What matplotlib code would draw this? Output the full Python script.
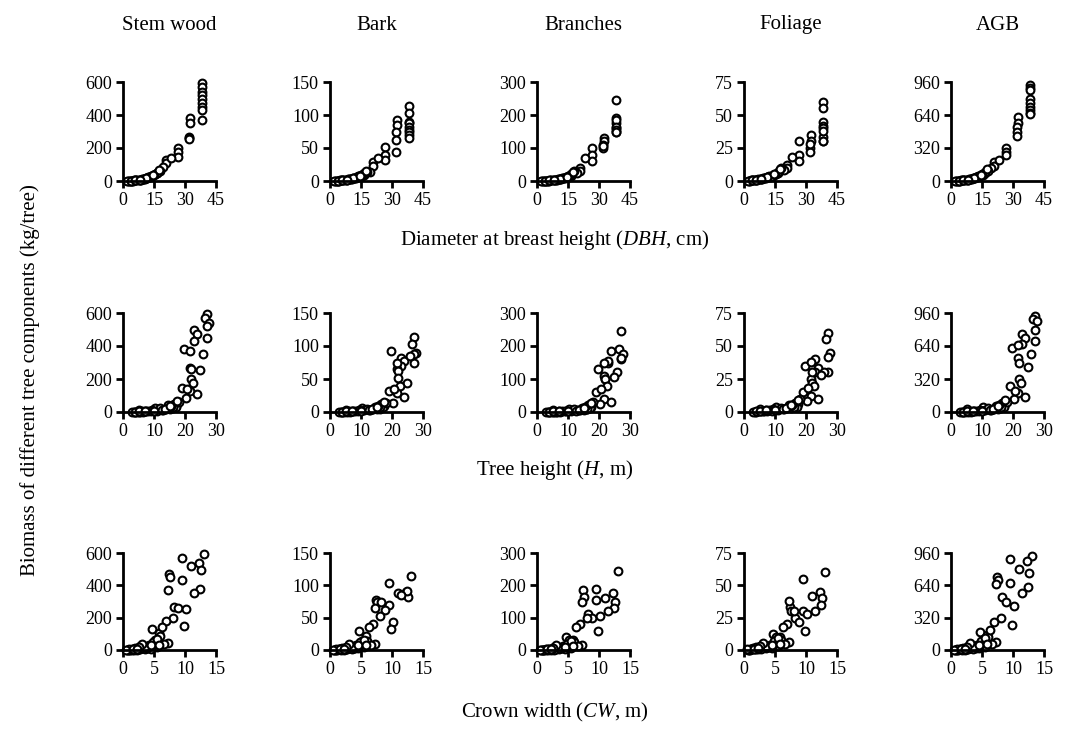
import matplotlib
matplotlib.use("Agg")
import matplotlib.pyplot as plt

plt.rcParams['font.family'] = ['Liberation Serif', 'DejaVu Serif']
plt.rcParams['mathtext.fontset'] = 'custom'
plt.rcParams['mathtext.rm'] = 'Liberation Serif'
plt.rcParams['mathtext.it'] = 'Liberation Serif:italic'

# ---- per-tree data ----
dbh = [38.1, 38.1, 38.1, 38.1, 38.1, 38.1, 38.1, 38.1, 32.4, 38.1, 32.4, 32.0, 32.0, 32.0,
       26.6, 26.6, 26.6, 21.0, 21.0, 19.5, 16.3, 15.5, 13.0, 12.0, 11.0, 10.0, 9.0, 8.5,
       8.0, 7.0, 6.5, 6.0, 5.0, 4.5, 4.0, 3.5, 3.0, 2.5, 2.0, 12.5, 14.0, 10.5, 18.0,
       23.0, 7.5, 11.5, 16.5,
       5.5, 9.5, 13.5, 15.0, 17.5, 11.0, 4.0, 6.0, 8.0, 14.5]
height = [27.0, 26.4, 27.8, 27.0, 22.9, 23.9, 27.0, 22.9, 19.6, 21.6, 25.9, 21.6, 22.0, 24.8,
          22.0, 22.7, 18.9, 21.6, 24.0, 20.3, 17.3, 14.6, 10.3, 16.0, 15.0, 13.0, 9.5, 11.0,
          8.0, 7.0, 9.0, 6.0, 5.0, 6.5, 4.5, 5.5, 4.0, 3.5, 3.0, 12.0, 17.0, 5.0, 18.0,
          20.5, 10.0, 14.0, 16.5,
          7.5, 12.5, 16.0, 15.5, 17.5, 13.5, 3.8, 5.0, 7.0, 15.0]
crown = [13.1, 9.5, 12.2, 10.9, 12.6, 7.4, 7.6, 9.5, 12.4, 7.2, 11.5, 8.3, 8.8, 10.2,
         8.0, 6.9, 9.8, 4.7, 5.8, 6.0, 7.2, 6.6, 5.0, 3.3, 5.5, 4.0, 3.0, 4.5,
         2.5, 3.5, 2.0, 2.8, 1.5, 2.2, 1.2, 1.8, 1.0, 0.8, 0.6, 2.8, 4.2, 3.8, 5.2,
         6.3, 1.5, 3.5, 4.8,
         1.0, 2.0, 4.5, 3.0, 5.5, 2.5, 0.5, 1.6, 2.2, 5.8]
stem = [592, 568, 541, 521, 495, 471, 450, 430, 380, 370, 350, 265, 258, 252,
        198, 178, 147, 127, 107, 87, 46, 40, 26, 22, 18, 14, 11, 9,
        8, 6, 5, 4, 3, 2.2, 1.6, 1.2, 0.9, 0.6, 0.4, 24, 30, 15, 60,
        142, 7, 20, 50,
        3.5, 12, 28, 38, 65, 17, 1.5, 4.5, 7.5, 34]
bark = [114, 103, 90, 88, 82, 78, 75, 70, 92, 65, 85, 75, 62, 44,
        52, 40, 32, 29, 22, 14, 9, 8, 6, 5, 4.5, 3.5, 3, 2.5,
        2, 1.6, 1.3, 1.1, 0.9, 0.7, 0.5, 0.4, 0.3, 0.2, 0.15, 5, 7, 3.5, 14,
        35, 1.8, 4.5, 12,
        1.0, 3, 7, 9, 15, 4, 0.4, 1.2, 2, 8]
branches = [245, 190, 175, 160, 150, 185, 165, 155, 130, 150, 120, 110, 100, 105,
            100, 80, 60, 40, 30, 25, 15, 12, 10, 8, 6, 5, 4, 3.5,
            3, 2.5, 2, 1.5, 1.2, 0.9, 0.7, 0.5, 0.4, 0.3, 0.2, 9, 11, 5, 30,
            70, 2.8, 7, 20,
            1.3, 4.5, 10, 14, 28, 6, 0.6, 1.7, 2.8, 13]
foliage = [60, 55, 45, 42, 40, 33, 30, 30, 35, 38, 30, 25, 22, 28,
           30, 20, 15, 12, 10, 8, 6, 5, 4, 3.5, 3, 2.5, 2, 1.8,
           1.5, 1.2, 1, 0.9, 0.7, 0.6, 0.5, 0.4, 0.3, 0.2, 0.15, 3, 4, 2, 10,
           18, 1.3, 3, 7,
           0.8, 2.2, 4, 5.5, 9, 3, 0.4, 0.9, 1.4, 5]
agb = [930, 905, 880, 800, 760, 720, 690, 660, 620, 650, 560, 520, 480, 440,
       320, 280, 250, 180, 150, 130, 80, 60, 45, 38, 30, 24, 19, 16,
       14, 11, 9, 7, 5, 4, 3, 2.5, 2, 1.3, 0.9, 40, 50, 25, 100,
       200, 12, 33, 85,
       6, 21, 48, 65, 115, 29, 3, 8, 13, 58]

component_titles = ["Stem wood", "Bark", "Branches", "Foliage", "AGB"]
component_values = [stem, bark, branches, foliage, agb]
component_yticks = [[0, 200, 400, 600], [0, 50, 100, 150], [0, 100, 200, 300],
                    [0, 25, 50, 75], [0, 320, 640, 960]]

predictors = [dbh, height, crown]
predictor_xticks = [[0, 15, 30, 45], [0, 10, 20, 30], [0, 5, 10, 15]]
predictor_labels = [r"Diameter at breast height ($\mathit{DBH}$, cm)",
                    r"Tree height ($\mathit{H}$, m)",
                    r"Crown width ($\mathit{CW}$, m)"]

W, H = 1069, 740
fig = plt.figure(figsize=(W / 100, H / 100), dpi=100)

col_left = [123, 330, 537, 744, 951]
col_width = 93
row_top = [82, 313, 553]
row_bottom = [181, 412, 650]

for r in range(3):
    for c in range(5):
        l = col_left[c] / W
        b = 1 - row_bottom[r] / H
        h = (row_bottom[r] - row_top[r]) / H
        ax = fig.add_axes([l, b, col_width / W, h])
        ax.plot(predictors[r], component_values[c], linestyle='none', marker='o',
                markersize=5.6, markerfacecolor='white', markeredgecolor='black',
                markeredgewidth=1.5, clip_on=False)
        xt = predictor_xticks[r]
        yt = component_yticks[c]
        ax.set_xlim(xt[0], xt[-1])
        ax.set_ylim(yt[0], yt[-1])
        ax.set_xticks(xt)
        ax.set_yticks(yt)
        for s in ['top', 'right']:
            ax.spines[s].set_visible(False)
        for s in ['left', 'bottom']:
            ax.spines[s].set_linewidth(2.0)
        ax.tick_params(direction='out', length=5, width=2.0, labelsize=13, pad=3)
        ax.set_facecolor('none')
        if r == 0:
            fig.text((col_left[c] + col_width / 2) / W, 1 - 25 / H, component_titles[c],
                     ha='center', va='center', fontsize=15)

label_y = [240, 470, 712]
for r in range(3):
    fig.text(0.5 + 20 / W, 1 - label_y[r] / H, predictor_labels[r], ha='center',
             va='center', fontsize=15)

fig.text(30 / W, 1 - 380 / H, "Biomass of different tree components (kg/tree)",
         rotation=90, ha='center', va='center', fontsize=15)

fig.savefig("out.png", dpi=100)
